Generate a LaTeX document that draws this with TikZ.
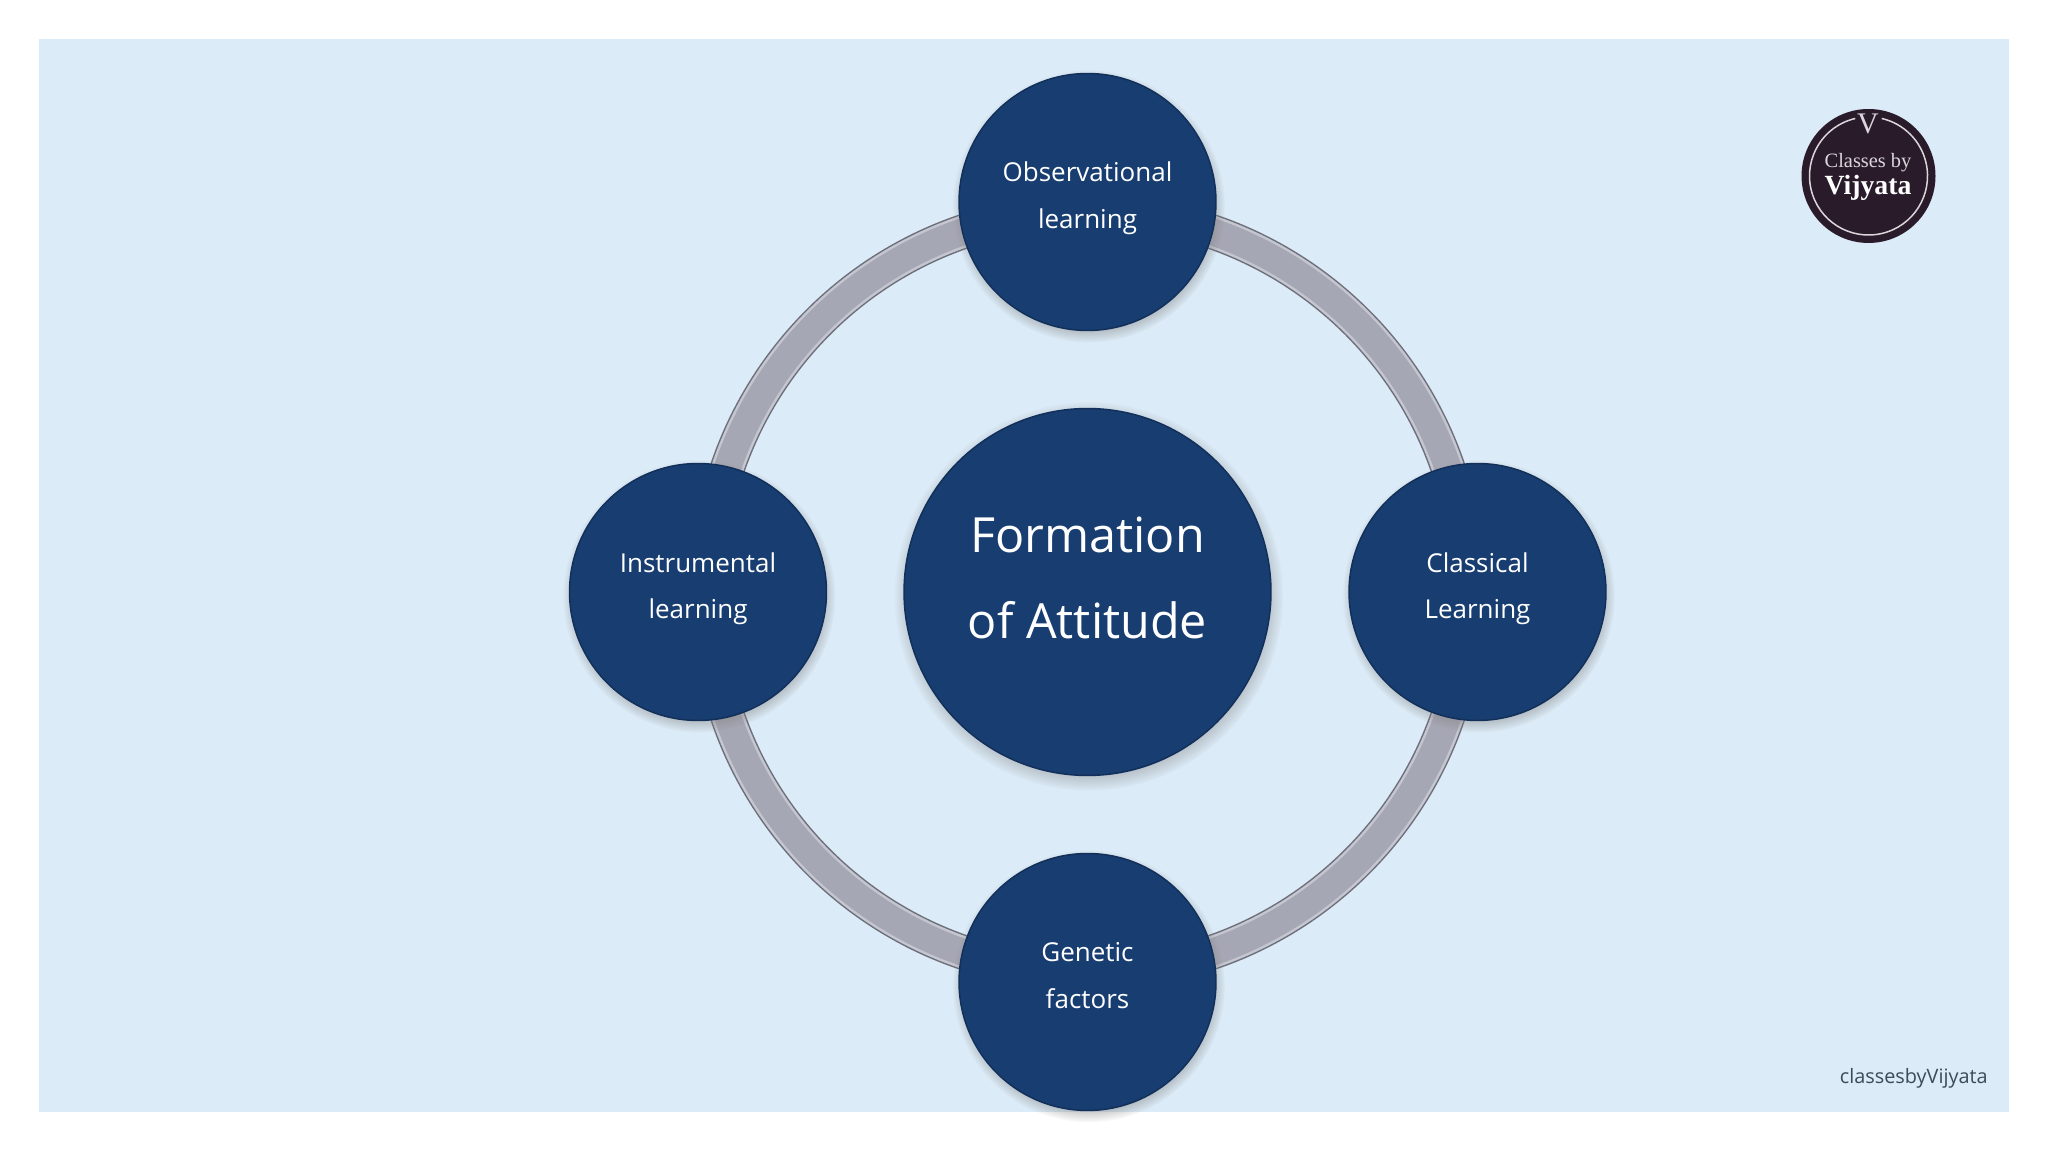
\documentclass[tikz,border=0pt]{standalone}
\usepackage{fontspec}
\setmainfont{Open Sans}
\newfontfamily\logofont{Liberation Serif}
\usetikzlibrary{calc,shadows,backgrounds}
\definecolor{panelblue}{HTML}{DBEBF7}
\definecolor{bubbleblue}{HTML}{173D71}
\definecolor{bubbleedge}{HTML}{12305A}
\definecolor{ringedge}{HTML}{6E6F7C}
\definecolor{ringlight}{HTML}{C4C6D0}
\definecolor{ringfill}{HTML}{A6A7B4}
\definecolor{logodark}{HTML}{2A1B2B}
\definecolor{logoline}{HTML}{DCD6DC}
\definecolor{marktext}{HTML}{3C4B59}
\tikzset{
  bubble/.style={circle, draw=bubbleedge, line width=0.03cm, fill=bubbleblue, text=white, align=center,
    circular drop shadow={shadow xshift=0.02cm, shadow yshift=-0.08cm, shadow scale=1.06, opacity=0.7}},
  smallbubble/.style={bubble, minimum size=5.14cm, inner sep=0pt, text depth=0.26cm,
    font=\fontsize{14.8}{26.6}\selectfont},
  bigbubble/.style={bubble, minimum size=7.34cm, inner sep=0pt, text depth=0.57cm,
    font=\fontsize{27.6}{48.8}\selectfont},
  ringline/.style={line width=0.7cm, draw=ringedge,
    postaction={draw=ringlight, line width=0.64cm},
    postaction={draw=ringfill, line width=0.54cm}},
}
\begin{document}
\begin{tikzpicture}[x=0.02cm, y=0.02cm]
    \useasboundingbox (0,0) rectangle (2048,1152);

    % Circles
    \node[bigbubble] (form) at (1087.5,560) {Formation\\of Attitude};
    \node[smallbubble] (observ) at (1087.5,950) {Observational\\learning};
    \node[smallbubble] (classic) at (1477.5,560) {Classical\\Learning};
    \node[smallbubble] (genetic) at (1087.5,170) {Genetic\\factors};
    \node[smallbubble] (instrum) at (698,560) {Instrumental\\learning};

    % Ring points
    \coordinate (ringtop) at ($(observ)+(0,-9)$);
    \coordinate (ringright) at ($(classic)+(-9,0)$);
    \coordinate (ringbottom) at ($(genetic)+(0,9)$);
    \coordinate (ringleft) at ($(instrum)+(9,0)$);

    \begin{scope}[on background layer]
    % Panel
    \fill[panelblue] (39,40) rectangle (2009,1112.5);
    % Ring
    \draw[ringline] (ringtop) to[out=0,in=90] (ringright);
    \draw[ringline] (ringright) to[out=-90,in=0] (ringbottom);
    \draw[ringline] (ringbottom) to[out=180,in=-90] (ringleft);
    \draw[ringline] (ringleft) to[out=90,in=180] (ringtop);
    \end{scope}

    % Logo
    \node[circle, fill=logodark, minimum size=2.68cm, inner sep=0pt] (logo) at (1868.5,976) {};
    \draw[logoline, line width=0.03cm] (logo.center) ++(103:59) arc[start angle=103, end angle=437, radius=59];
    \node[text=logoline, font=\logofont\fontsize{17}{17}\selectfont, inner sep=0pt] (logov) at (1868,1028) {V};
    \node[text=logoline, font=\logofont\fontsize{11.6}{12}\selectfont, inner sep=0pt] (logoa) at (1868,989) {Classes by};
    \node[text=white, font=\logofont\bfseries\fontsize{15.8}{16}\selectfont, inner sep=0pt] (logob) at (1868,964) {Vijyata};

    % Mark
    \node[anchor=east, text=marktext, inner sep=0pt, font=\fontsize{11.3}{12}\selectfont] (mark) at (1988,74) {classesbyVijyata};
\end{tikzpicture}
\end{document}
